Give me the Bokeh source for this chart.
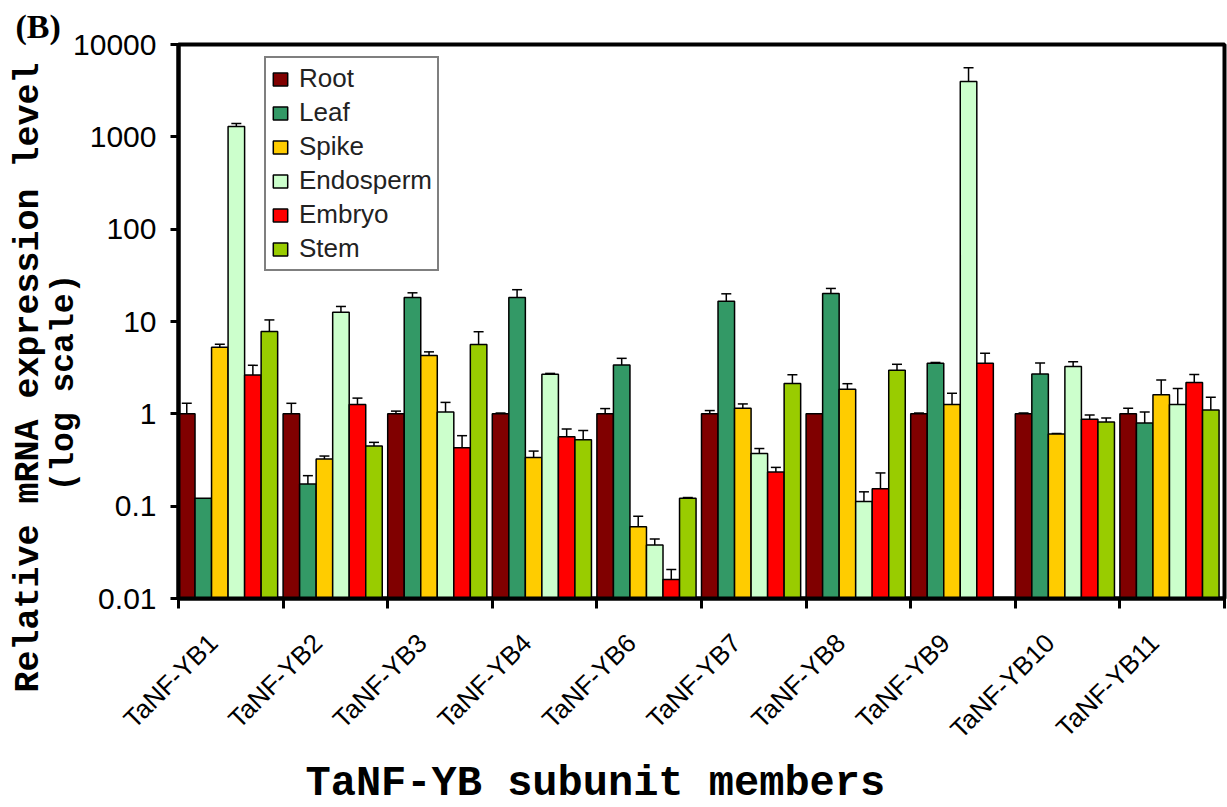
import numpy as np
from bokeh.plotting import figure
from bokeh.models import (ColumnDataSource, FixedTicker, CustomJSTickFormatter, Whisker,
                          TeeHead, Legend, LegendItem, Title)
from bokeh.embed import file_html
from bokeh.resources import INLINE

groups = ["TaNF-YB1", "TaNF-YB2", "TaNF-YB3", "TaNF-YB4", "TaNF-YB6",
          "TaNF-YB7", "TaNF-YB8", "TaNF-YB9", "TaNF-YB10", "TaNF-YB11"]
tissues = ["Root", "Leaf", "Spike", "Endosperm", "Embryo", "Stem"]
colors = ["#800000", "#339966", "#FFCC00", "#CCFFCC", "#FF0000", "#99CC00"]

nan = float("nan")
root = [1, 1, 1, 1, 1, 1, 1, 1, 1, 1]
leaf = [0.122, 0.174, 18.2, 18.2, 3.37, 16.6, 20.1, 3.53, 2.7, 0.794]
spike = [5.25, 0.325, 4.29, 0.337, 0.060, 1.15, 1.85, 1.26, 0.603, 1.61]
endosperm = [1294, 12.6, 1.05, 2.68, 0.038, 0.373, 0.112, 3981, 3.25, 1.26]
embryo = [2.63, 1.26, 0.43, 0.565, 0.0161, 0.235, 0.154, 3.53, 0.871, 2.19]
stem = [7.8, 0.449, 5.65, 0.525, 0.122, 2.13, 2.97, nan, 0.817, 1.1]

root_sd = [0.3, 0.3, 0.07, 0.02, 0.14, 0.085, nan, 0.02, 0.02, 0.15]
leaf_sd = [nan, 0.04, 2.25, 3.9, 0.62, 3.35, 2.7, 0.07, 0.85, 0.25]
spike_sd = [0.43, 0.024, 0.4, 0.058, 0.018, 0.13, 0.27, 0.41, 0.01, 0.71]
endosperm_sd = [97, 1.95, 0.28, 0.06, 0.006, 0.048, 0.031, 1610, 0.42, 0.62]
embryo_sd = [0.72, 0.22, 0.15, 0.12, 0.0045, 0.028, 0.075, 1.0, 0.1, 0.47]
stem_sd = [2.6, 0.042, 2.1, 0.135, 0.002, 0.52, 0.47, nan, 0.083, 0.41]

values = [root, leaf, spike, endosperm, embryo, stem]
sds = [root_sd, leaf_sd, spike_sd, endosperm_sd, embryo_sd, stem_sd]

p = figure(width=1227, height=807, x_range=(0, 10), y_range=(0.01, 10000),
           y_axis_type="log", output_backend="svg", toolbar_location=None,
           min_border_left=178, min_border_right=3, min_border_top=44,
           min_border_bottom=207, background_fill_color="white",
           border_fill_color="white")
p.grid.visible = False
p.outline_line_color = "black"
p.outline_line_width = 4

bw = 0.158
items = []
for k, (name, col, vals, sd) in enumerate(zip(tissues, colors, values, sds)):
    x = np.arange(len(groups)) + 0.079 + k * bw
    v = np.array(vals, dtype=float)
    s = np.array(sd, dtype=float)
    src = ColumnDataSource(dict(x=x, top=v, upper=v + s, lower=v - s))
    r = p.vbar(x="x", top="top", bottom=0.01, width=bw, source=src,
               fill_color=col, line_color="black", line_width=1.5)
    items.append(LegendItem(label=name, renderers=[r]))
    w = Whisker(source=src, base="x", upper="upper", lower="lower",
                line_color="black", line_width=1.5,
                upper_head=TeeHead(size=10, line_width=1.5, line_color="black"),
                lower_head=TeeHead(size=10, line_width=1.5, line_color="black"))
    p.add_layout(w)

legend = Legend(items=items, location=(86, 327), orientation="vertical",
                label_text_font="Liberation Sans", label_text_font_size="26px",
                label_text_color="#222222", glyph_width=18, glyph_height=16,
                label_height=29, label_standoff=10, spacing=3, padding=5,
                margin=0, border_line_color="black", border_line_width=2.5,
                background_fill_color="white", background_fill_alpha=1)
p.add_layout(legend, "center")

# y axis
ya = p.yaxis[0]
ya.ticker = FixedTicker(ticks=[0.01, 0.1, 1, 10, 100, 1000, 10000], minor_ticks=[])
ya.formatter = CustomJSTickFormatter(code="""
const e = Math.round(Math.log10(tick));
if (e >= 0) { return "1" + "0".repeat(e); }
return "0." + "0".repeat(-e - 1) + "1";
""")
ya.axis_line_width = 4
ya.axis_line_color = "black"
ya.major_tick_out = 8
ya.major_tick_in = 0
ya.major_tick_line_width = 3
ya.major_label_text_font = "Liberation Sans"
ya.major_label_text_font_size = "30px"
ya.major_label_text_color = "black"
ya.major_label_standoff = 14

# x axis (labels slightly left of group centres, as in the original)
xa = p.xaxis[0]
xa.ticker = FixedTicker(ticks=[i + 0.33 for i in range(len(groups))],
                        minor_ticks=list(range(len(groups) + 1)))
xa.formatter = CustomJSTickFormatter(args=dict(labels=groups),
                                     code="return labels[Math.floor(tick)];")
xa.axis_line_width = 4
xa.axis_line_color = "black"
xa.major_tick_out = 0
xa.major_tick_in = 0
xa.minor_tick_out = 10
xa.minor_tick_in = 0
xa.minor_tick_line_width = 3
xa.minor_tick_line_color = "black"
xa.major_label_orientation = np.pi / 4
xa.major_label_text_font = "Liberation Sans"
xa.major_label_text_font_size = "26px"
xa.major_label_text_color = "black"
xa.major_label_standoff = 30

mono = "Liberation Mono"
p.add_layout(Title(text="(log scale)", align="left", offset=107, standoff=-24,
                   text_font=mono, text_font_style="bold", text_font_size="33px",
                   text_color="black"), "left")
p.add_layout(Title(text="Relative mRNA expression level", align="left", offset=-94,
                   standoff=13, text_font=mono, text_font_style="bold",
                   text_font_size="35px", text_color="black"), "left")
p.add_layout(Title(text="TaNF-YB subunit members", align="left", offset=127,
                   standoff=0, text_font=mono, text_font_style="bold",
                   text_font_size="42px", text_color="black"), "below")
p.add_layout(Title(text="(B)", align="left", offset=-163, standoff=0,
                   text_font="Liberation Serif", text_font_style="bold",
                   text_font_size="34px", text_color="black"), "above")

open("out.html", "w").write(file_html(p, INLINE))
